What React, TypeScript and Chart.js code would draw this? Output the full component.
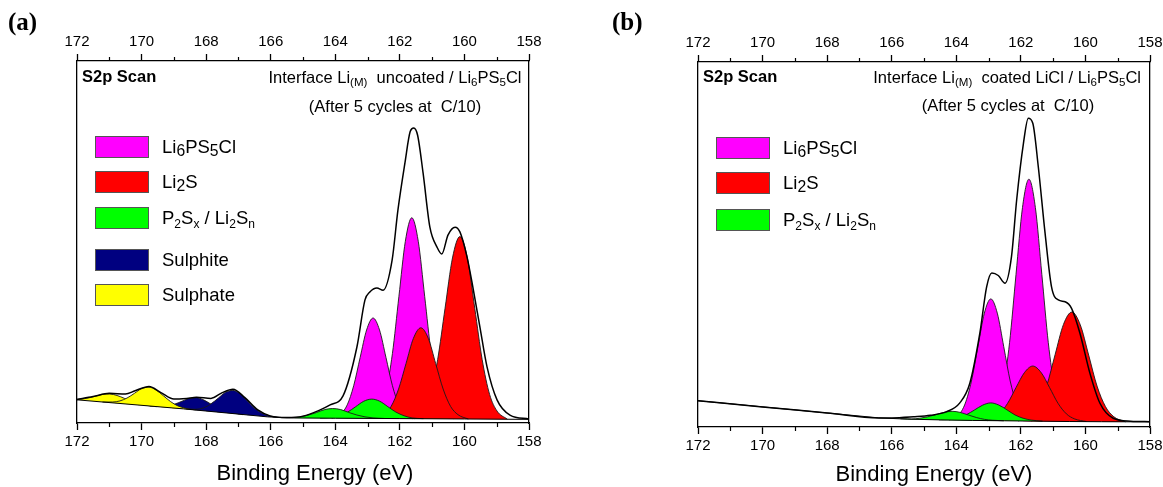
import React, { useEffect, useRef } from 'react';
import { Chart, registerables } from 'chart.js';

Chart.register(...registerables);

type Pt = [number, number];

const FONT = '"Liberation Sans", Arial, Helvetica, sans-serif';
const SERIF = '"Liberation Serif", "Times New Roman", serif';

// ---------- axis ----------
const MAJOR_TICKS = [158, 160, 162, 164, 166, 168, 170, 172];
const MINOR_TICKS = [159, 161, 163, 165, 167, 169, 171];
const X_MIN = 158;
const X_MAX = 172;
const X_TITLE = 'Binding Energy (eV)';

// ---------- colours ----------
const C_LI6 = '#FF00FF';
const C_LI2S = '#FF0000';
const C_P2SX = '#00FF00';
const C_SULPHITE = '#000080';
const C_SULPHATE = '#FFFF00';

// ---------- panel (a): Li(M) uncoated ----------
const A_BACKGROUND: Pt[] = [[158, 1.0], [160, 1.11], [162, 1.22], [164, 1.32], [165.4, 1.4], [166.1, 1.7], [168.7, 3.9], [172, 6.4]];
const A_ENVELOPE: Pt[] = [
  [158.0, 1.1], [158.59, 2.2], [158.99, 6.4], [159.3, 15.5], [159.52, 26.5], [159.74, 37.6], [159.92, 45.9],
  [160.14, 52.8], [160.29, 54.1], [160.51, 51.9], [160.7, 46.7], [160.85, 48.6], [161.07, 54.1], [161.28, 69.0],
  [161.45, 79.5], [161.57, 81.5], [161.68, 80.5], [161.84, 72.0], [162.06, 58.8], [162.24, 45.0], [162.52, 36.7],
  [162.71, 37.3], [162.93, 36.2], [163.08, 34.0], [163.33, 21.0], [163.76, 7.5], [164.16, 5.0], [164.5, 3.5],
  [165.0, 1.9], [165.5, 1.5], [166.0, 1.9], [166.4, 3.6], [166.8, 7.0], [167.17, 9.3], [167.5, 8.4], [167.85, 6.8],
  [168.3, 7.1], [168.6, 6.8], [169.0, 6.6], [169.4, 8.4], [169.77, 10.1], [170.2, 8.9], [170.5, 8.0], [171.0, 8.2],
  [171.5, 7.3], [172.0, 6.5],
];
const A_LI6_MAIN: Pt[] = [[160.35, 1.2], [160.63, 3.6], [160.83, 8.7], [161.03, 19.2], [161.23, 34.9], [161.43, 50.2], [161.63, 56.7], [161.83, 50.2], [162.03, 34.9], [162.23, 19.2], [162.43, 8.7], [162.63, 3.6], [162.91, 1.3]];
const A_LI6_SEC: Pt[] = [[161.55, 1.2], [161.83, 2.5], [162.03, 5.0], [162.23, 10.3], [162.43, 18.1], [162.63, 25.7], [162.83, 29.0], [163.03, 25.7], [163.23, 18.1], [163.43, 10.3], [163.63, 5.0], [163.83, 2.5], [164.11, 1.3]];
const A_LI2S_MAIN: Pt[] = [[158.67, 1.05], [158.99, 3.3], [159.22, 7.9], [159.45, 17.5], [159.68, 31.7], [159.91, 45.6], [160.14, 51.5], [160.37, 45.6], [160.6, 31.7], [160.83, 17.5], [161.06, 7.9], [161.29, 3.3], [161.61, 1.2]];
const A_LI2S_SEC: Pt[] = [[159.88, 1.1], [160.2, 2.3], [160.43, 4.6], [160.66, 9.4], [160.89, 16.4], [161.12, 23.4], [161.35, 26.3], [161.58, 23.4], [161.81, 16.4], [162.04, 9.4], [162.27, 4.6], [162.5, 2.3], [162.82, 1.25]];
const A_P2SX_MAIN: Pt[] = [[161.27, 1.2], [161.62, 1.4], [161.87, 2.0], [162.12, 3.0], [162.37, 4.5], [162.62, 6.0], [162.87, 6.6], [163.12, 6.0], [163.37, 4.5], [163.62, 3.0], [163.87, 2.0], [164.12, 1.5], [164.47, 1.35]];
const A_P2SX_SEC: Pt[] = [[162.48, 1.25], [162.83, 1.4], [163.08, 1.7], [163.33, 2.2], [163.58, 2.9], [163.83, 3.7], [164.08, 4.0], [164.33, 3.7], [164.58, 2.9], [164.83, 2.2], [165.08, 1.7], [165.33, 1.5], [165.68, 1.5]];
const A_SULPHITE_MAIN: Pt[] = [[165.73, 1.5], [166.05, 2.0], [166.27, 2.7], [166.5, 4.1], [166.72, 6.1], [166.95, 8.1], [167.17, 9.0], [167.4, 8.5], [167.62, 6.9], [167.85, 5.3], [168.07, 4.2], [168.3, 3.8], [168.61, 3.8]];
const A_SULPHITE_SEC: Pt[] = [[166.86, 2.3], [167.18, 2.8], [167.4, 3.3], [167.63, 4.1], [167.85, 5.2], [168.08, 6.4], [168.3, 7.0], [168.53, 6.8], [168.75, 6.0], [168.98, 5.2], [169.2, 4.7], [169.43, 4.6], [169.74, 4.7]];
const A_SULPHATE_MAIN: Pt[] = [[168.33, 3.6], [168.65, 4.1], [168.87, 4.7], [169.1, 5.9], [169.32, 7.5], [169.55, 9.1], [169.77, 9.9], [170.0, 9.5], [170.22, 8.2], [170.45, 6.9], [170.67, 6.1], [170.9, 5.8], [171.21, 5.8]];
const A_SULPHATE_SEC: Pt[] = [[169.54, 4.5], [169.86, 4.9], [170.08, 5.3], [170.31, 5.9], [170.53, 6.8], [170.76, 7.6], [170.98, 8.0], [171.21, 7.9], [171.43, 7.4], [171.66, 6.9], [171.88, 6.6], [172.0, 6.55]];

// ---------- panel (b): Li(M) coated LiCl ----------
const B_BACKGROUND: Pt[] = [[158, 1.4], [159.5, 1.45], [160.5, 1.5], [161.5, 1.6], [162.5, 1.7], [163.5, 1.8], [164.5, 1.95], [165.5, 2.15], [166.4, 2.5], [172, 7.2]];
const B_ENVELOPE: Pt[] = [
  [158.0, 1.45], [158.6, 1.6], [159.14, 2.4], [159.55, 6.5], [159.86, 14.7], [160.17, 25.7], [160.43, 32.5],
  [160.63, 34.3], [160.84, 34.8], [161.05, 38.4], [161.25, 53.1], [161.46, 71.3], [161.63, 83.2], [161.77, 84.6],
  [161.92, 77.7], [162.13, 62.2], [162.29, 46.7], [162.49, 39.4], [162.7, 41.5], [162.9, 42.2], [163.06, 38.4],
  [163.27, 25.7], [163.58, 12.0], [163.89, 6.6], [164.3, 4.2], [164.8, 3.2], [165.33, 2.8], [166.0, 2.5],
  [166.4, 2.5], [168.0, 3.85], [170.0, 5.5], [172.0, 7.2],
];
const B_LI6_MAIN: Pt[] = [[160.47, 1.55], [160.75, 4.5], [160.95, 10.6], [161.15, 23.1], [161.35, 41.8], [161.55, 60.1], [161.75, 67.9], [161.95, 60.1], [162.15, 41.8], [162.35, 23.1], [162.55, 10.6], [162.75, 4.5], [163.03, 1.75]];
const B_LI6_SEC: Pt[] = [[161.65, 1.6], [161.93, 3.2], [162.13, 6.3], [162.33, 12.6], [162.53, 22.0], [162.73, 31.2], [162.93, 35.1], [163.13, 31.2], [163.33, 22.0], [163.53, 12.6], [163.73, 6.3], [163.93, 3.3], [164.21, 1.9]];
const B_LI2S_MAIN: Pt[] = [[158.76, 1.4], [159.12, 2.8], [159.38, 5.6], [159.64, 11.2], [159.9, 19.7], [160.16, 28.0], [160.42, 31.5], [160.68, 28.1], [160.94, 19.8], [161.2, 11.3], [161.46, 5.7], [161.72, 2.9], [162.08, 1.65]];
const B_LI2S_SEC: Pt[] = [[159.97, 1.5], [160.33, 2.2], [160.59, 3.6], [160.85, 6.5], [161.11, 10.8], [161.37, 14.9], [161.63, 16.7], [161.89, 14.9], [162.15, 10.8], [162.41, 6.5], [162.67, 3.6], [162.93, 2.4], [163.29, 1.8]];
const B_P2SX_MAIN: Pt[] = [[161.33, 1.6], [161.68, 1.9], [161.93, 2.4], [162.18, 3.3], [162.43, 4.7], [162.68, 6.0], [162.93, 6.6], [163.18, 6.0], [163.43, 4.7], [163.68, 3.4], [163.93, 2.5], [164.18, 2.1], [164.53, 1.95]];
const B_P2SX_SEC: Pt[] = [[162.53, 1.7], [162.88, 1.85], [163.13, 2.1], [163.38, 2.6], [163.63, 3.3], [163.88, 4.0], [164.13, 4.3], [164.38, 4.0], [164.63, 3.4], [164.88, 2.8], [165.13, 2.4], [165.38, 2.2], [165.73, 2.25]];

type Comp = { pts: Pt[]; color: string };

// back-to-front drawing order
const A_COMPONENTS: Comp[] = [
  { pts: A_LI6_MAIN, color: C_LI6 },
  { pts: A_LI6_SEC, color: C_LI6 },
  { pts: A_LI2S_MAIN, color: C_LI2S },
  { pts: A_LI2S_SEC, color: C_LI2S },
  { pts: A_P2SX_MAIN, color: C_P2SX },
  { pts: A_P2SX_SEC, color: C_P2SX },
  { pts: A_SULPHITE_SEC, color: C_SULPHITE },
  { pts: A_SULPHITE_MAIN, color: C_SULPHITE },
  { pts: A_SULPHATE_SEC, color: C_SULPHATE },
  { pts: A_SULPHATE_MAIN, color: C_SULPHATE },
];
const B_COMPONENTS: Comp[] = [
  { pts: B_LI6_MAIN, color: C_LI6 },
  { pts: B_LI6_SEC, color: C_LI6 },
  { pts: B_LI2S_MAIN, color: C_LI2S },
  { pts: B_LI2S_SEC, color: C_LI2S },
  { pts: B_P2SX_MAIN, color: C_P2SX },
  { pts: B_P2SX_SEC, color: C_P2SX },
];

const toXY = (pts: Pt[]) => pts.map(([x, y]) => ({ x, y }));

const minorTickPlugin = {
  id: 'minorTicks',
  afterDraw(chart: any) {
    const ctx = chart.ctx;
    const { top, bottom } = chart.chartArea;
    ctx.save();
    ctx.strokeStyle = '#000';
    ctx.lineWidth = 1.2;
    for (const id of ['x', 'x2']) {
      const s = chart.scales[id];
      for (const v of MINOR_TICKS) {
        const px = Math.round(s.getPixelForValue(v)) + 0.5;
        ctx.beginPath();
        if (id === 'x') {
          ctx.moveTo(px, bottom);
          ctx.lineTo(px, bottom + 4);
        } else {
          ctx.moveTo(px, top);
          ctx.lineTo(px, top - 4);
        }
        ctx.stroke();
      }
    }
    ctx.restore();
  },
};

function makeConfig(p: {
  bg: Pt[]; env: Pt[]; comps: Comp[]; padLeft: number; padRight: number; topH: number; bottomH: number;
}): any {
  const datasets: any[] = [
    {
      data: toXY(p.bg), borderColor: '#000', borderWidth: 1, fill: false, tension: 0, order: 1, pointRadius: 0,
    },
    ...p.comps.map((c, i) => ({
      data: toXY(c.pts), borderColor: '#1a1a1a', borderWidth: 0.9, backgroundColor: c.color,
      fill: { target: 0 }, cubicInterpolationMode: 'monotone', order: 100 - i, pointRadius: 0,
    })),
    {
      data: toXY(p.env), borderColor: '#000', borderWidth: 1.5, fill: false, cubicInterpolationMode: 'monotone', order: 0, pointRadius: 0,
    },
  ];
  const xCommon = {
    type: 'linear', reverse: true, min: X_MIN, max: X_MAX,
    afterBuildTicks: (s: any) => { s.ticks = MAJOR_TICKS.map((v) => ({ value: v })); },
    ticks: { font: { family: FONT, size: 15 }, color: '#000', padding: 3, maxRotation: 0, autoSkip: false, callback: (v: any) => String(v) },
    grid: { drawOnChartArea: false, drawTicks: true, tickLength: 7, tickColor: '#000', tickWidth: 1.3 },
    border: { display: true, color: '#000', width: 1.3 },
  };
  const yCommon = {
    type: 'linear', min: 0, max: 100,
    ticks: { display: false },
    grid: { drawOnChartArea: false, drawTicks: false },
    border: { display: true, color: '#000', width: 1.3 },
    afterFit: (s: any) => { s.width = 0; },
  };
  return {
    type: 'line',
    data: { datasets },
    options: {
      responsive: false,
      animation: false,
      devicePixelRatio: 1,
      layout: { padding: { left: p.padLeft, right: p.padRight, top: 0, bottom: 0 } },
      plugins: { legend: { display: false }, tooltip: { enabled: false }, title: { display: false } },
      elements: { point: { radius: 0 } },
      scales: {
        x: {
          ...xCommon, position: 'bottom',
          title: { display: false, text: X_TITLE },
          afterFit: (s: any) => { s.height = p.bottomH; },
        },
        x2: {
          ...xCommon, position: 'top',
          afterFit: (s: any) => { s.height = p.topH; },
        },
        y: { ...yCommon, position: 'left' },
        y2: { ...yCommon, position: 'right' },
      },
    },
    plugins: [minorTickPlugin],
  };
}

const Sub = ({ children, size = 0.7, drop = 0.3 }: any) => (
  <span style={{ fontSize: `${size}em`, verticalAlign: `-${drop}em`, lineHeight: 0 }}>{children}</span>
);

function Label({ x, y, size, align = 'left', bold = false, serif = false, children }: any) {
  const lh = size * 1.2;
  const style: React.CSSProperties = {
    position: 'absolute', top: y - lh / 2, lineHeight: `${lh}px`, height: lh, fontSize: size,
    fontWeight: bold ? 'bold' : 'normal', fontFamily: serif ? SERIF : FONT, whiteSpace: 'nowrap', color: '#000',
  };
  if (align === 'left') style.left = x;
  else if (align === 'right') style.right = 1163 - x;
  else { style.left = x; style.transform = 'translateX(-50%)'; }
  return <div style={style}>{children}</div>;
}

function LegendItem({ x, y, color, children }: any) {
  return (
    <>
      <div style={{ position: 'absolute', left: x, top: y - 11, width: 54, height: 22, background: color, border: '1px solid #555', boxSizing: 'border-box' }} />
      <Label x={x + 67} y={y} size={18.5}>{children}</Label>
    </>
  );
}

const LBL_LI6 = <>Li<Sub size={0.85} drop={0.2}>6</Sub>PS<Sub size={0.85} drop={0.2}>5</Sub>Cl</>;
const LBL_LI2S = <>Li<Sub size={0.85} drop={0.2}>2</Sub>S</>;
const LBL_P2SX = <>P<Sub size={0.65}>2</Sub>S<Sub size={0.65}>x</Sub> / Li<Sub size={0.65}>2</Sub>S<Sub size={0.65}>n</Sub></>;

export default function App() {
  const refA = useRef<HTMLCanvasElement>(null);
  const refB = useRef<HTMLCanvasElement>(null);

  useEffect(() => {
    const ca = new Chart(refA.current as HTMLCanvasElement, makeConfig({
      bg: A_BACKGROUND, env: A_ENVELOPE, comps: A_COMPONENTS, padLeft: 77, padRight: 51, topH: 61, bottomH: 64,
    }));
    const cb = new Chart(refB.current as HTMLCanvasElement, makeConfig({
      bg: B_BACKGROUND, env: B_ENVELOPE, comps: B_COMPONENTS, padLeft: 118, padRight: 13, topH: 62, bottomH: 60,
    }));
    return () => { ca.destroy(); cb.destroy(); };
  }, []);

  return (
    <div style={{ position: 'fixed', left: 0, top: 0, width: 1163, height: 487, background: '#fff', overflow: 'hidden' }}>
      <canvas ref={refA} width={580} height={487} style={{ position: 'absolute', left: 0, top: 0, width: 580, height: 487 }} />
      <canvas ref={refB} width={583} height={487} style={{ position: 'absolute', left: 580, top: 0, width: 583, height: 487 }} />

      <Label x={8} y={22} size={25} bold serif>(a)</Label>
      <Label x={612} y={22} size={25} bold serif>(b)</Label>

      {/* panel a texts */}
      <Label x={82} y={77} size={16.5} bold>S2p Scan</Label>
      <Label x={395} y={78} size={16.5} align="center">Interface Li<Sub>(M)</Sub>&nbsp; uncoated / Li<Sub>6</Sub>PS<Sub>5</Sub>Cl</Label>
      <Label x={395} y={107} size={16.5} align="center">(After 5 cycles at&nbsp; C/10)</Label>
      <LegendItem x={95} y={147} color={C_LI6}>{LBL_LI6}</LegendItem>
      <LegendItem x={95} y={182} color={C_LI2S}>{LBL_LI2S}</LegendItem>
      <LegendItem x={95} y={218} color={C_P2SX}>{LBL_P2SX}</LegendItem>
      <LegendItem x={95} y={260} color={C_SULPHITE}>Sulphite</LegendItem>
      <LegendItem x={95} y={295} color={C_SULPHATE}>Sulphate</LegendItem>
      <Label x={315} y={473} size={22} align="center">{X_TITLE}</Label>

      {/* panel b texts */}
      <Label x={703} y={77} size={16.5} bold>S2p Scan</Label>
      <Label x={1141} y={78} size={16.5} align="right">Interface Li<Sub>(M)</Sub>&nbsp; coated LiCl / Li<Sub>6</Sub>PS<Sub>5</Sub>Cl</Label>
      <Label x={1008} y={106} size={16.5} align="center">(After 5 cycles at&nbsp; C/10)</Label>
      <LegendItem x={716} y={148} color={C_LI6}>{LBL_LI6}</LegendItem>
      <LegendItem x={716} y={183} color={C_LI2S}>{LBL_LI2S}</LegendItem>
      <LegendItem x={716} y={220} color={C_P2SX}>{LBL_P2SX}</LegendItem>
      <Label x={934} y={474} size={22} align="center">{X_TITLE}</Label>
    </div>
  );
}
